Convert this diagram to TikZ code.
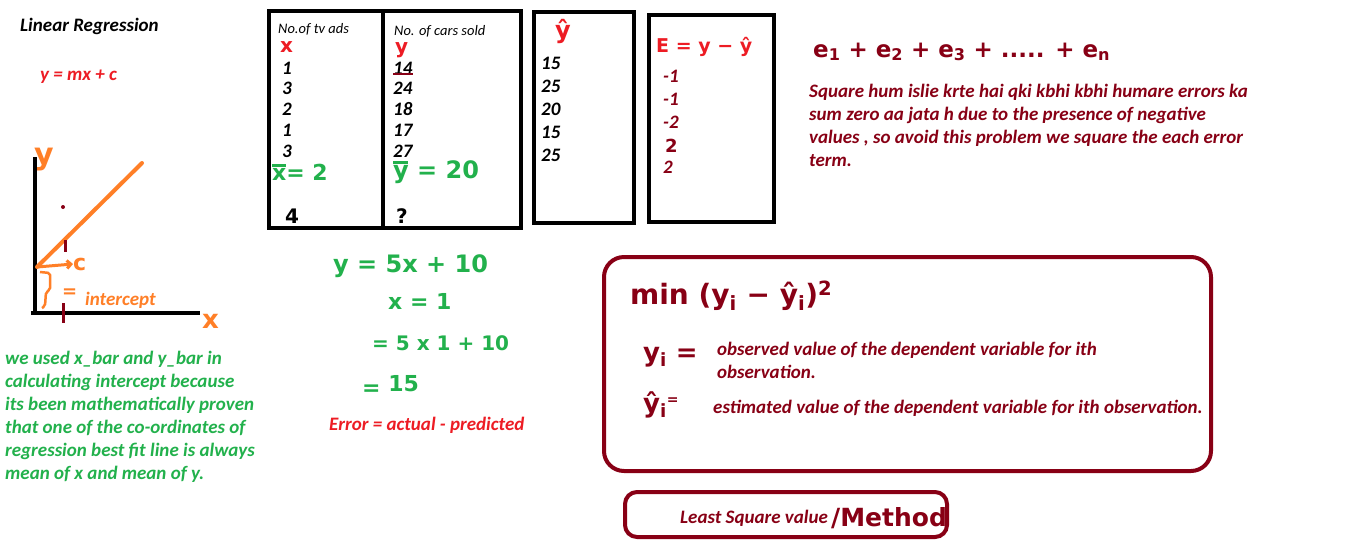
\documentclass[tikz,border=0pt]{standalone}
\usepackage{fontspec}
\setmainfont{Carlito}
\newfontfamily\handfont{DejaVu Sans}
\usepackage{xcolor}
\definecolor{paintred}{RGB}{237,28,36}
\definecolor{paintmaroon}{RGB}{136,0,21}
\definecolor{paintgreen}{RGB}{34,177,76}
\definecolor{paintorange}{RGB}{255,127,39}
\usepackage{tikz}
\usetikzlibrary{
  arrows.meta,
  positioning
}

\begin{document}
\begin{tikzpicture}[x=1pt, y=-1pt,
  txt/.style={font=\fontsize{19}{23}\selectfont\bfseries\itshape,
    inner sep=0pt, anchor=base west},
  smalltxt/.style={font=\fontsize{14.5}{17}\selectfont\itshape,
    inner sep=0pt, anchor=base west},
  hand/.style={font=\handfont\fontsize{#1}{#1}\selectfont\bfseries,
    inner sep=0pt, anchor=west},
  tablebox/.style={line width=4pt, black},
  markbox/.style={line width=4pt, paintmaroon, rounded corners=#1}
]

  %% Canvas
  \fill[white] (0,0) rectangle (1355,558);
  \useasboundingbox (0,0) rectangle (1355,558);

  %% Title and model
  \node[txt, black] (title) at (20,31) {Linear Regression};
  \node[txt, paintred] (model) at (40,80) {y = mx + c};

  %% Axes
  \coordinate (ytop) at (35,157);
  \coordinate (corner) at (35,315);
  \coordinate (xstart) at (31,313);
  \coordinate (xend) at (200,313);
  \draw[line width=4pt] (ytop) -- (corner);
  \draw[line width=4pt] (xstart) -- (xend);
  \node[hand=30, paintorange] (ylab) at (34,160) {y};
  \node[hand=26, paintorange] (xlab) at (202,321) {x};

  %% Fitted line and intercept
  \coordinate (cpt) at (37,267);
  \coordinate (fitend) at (142,163);
  \draw[paintorange, line width=4pt, line cap=round] (cpt) -- (fitend);
  \node[hand=22, paintorange] (clab) at (73,264) {c};
  \draw[paintorange, line width=3pt, -{Straight Barb[length=4pt]}]
    (cpt) -- (clab.west);
  \draw[paintorange, line width=2.5pt, rounded corners=2pt]
    (40,272) -- (50,273) -- (50,290) -- (46,292) -- (45,306) -- (42,308);
  \node[hand=18, paintorange] (eqsign) at (62,293) {=};
  \node[txt, paintorange] (intercept) at (85,305) {intercept};

  %% Marks
  \fill[paintmaroon] (63,207) circle (2);
  \draw[paintmaroon, line width=3pt] (65,240) -- (65,252);
  \draw[paintmaroon, line width=3pt] (63,303) -- (63,323);

  %% Note on the means
  \node[txt, paintgreen] (note1) at (5,364) {we used x\_bar and y\_bar in};
  \node[txt, paintgreen] (note2) at (5,387) {calculating intercept because};
  \node[txt, paintgreen] (note3) at (5,410) {its been mathematically proven};
  \node[txt, paintgreen] (note4) at (5,433) {that one of the co-ordinates of};
  \node[txt, paintgreen] (note5) at (5,456) {regression best fit line is always};
  \node[txt, paintgreen] (note6) at (5,479) {mean of x and mean of y.};

  %% Data table
  \draw[tablebox] (269,11) rectangle (521,228);
  \draw[tablebox] (383,11) -- (383,230);
  \node[smalltxt] (adshead) at (278,33) {No.of tv ads};
  \node[smalltxt] (carshead) at (394,35) {No. of cars sold};
  \node[hand=20, paintred] (xcol) at (280,47) {x};
  \node[hand=20, paintred] (ycol) at (395,50) {y};

  \node[txt] (xa) at (282,74) {1};
  \node[txt] (xb) at (282,94) {3};
  \node[txt] (xc) at (282,115) {2};
  \node[txt] (xd) at (282,136) {1};
  \node[txt] (xe) at (282,157) {3};

  \node[txt] (ya) at (393,74) {14};
  \node[txt] (yb) at (393,94) {24};
  \node[txt] (yc) at (393,115) {18};
  \node[txt] (yd) at (393,136) {17};
  \node[txt] (ye) at (393,157) {27};
  \draw[paintmaroon, line width=2.5pt] (ya.south west) -- (ya.south east);

  \node[hand=22, paintgreen] (xbar) at (272,172) {x= 2};
  \draw[paintgreen, line width=2.5pt]
    ([yshift=-2pt]xbar.north west) -- ++(14,0);
  \node[hand=24, paintgreen] (ybar) at (393,172) {y = 20};
  \draw[paintgreen, line width=2.5pt]
    ([yshift=-2pt]ybar.north west) -- ++(15,0);
  \node[hand=20] (four) at (285,216) {4};
  \node[hand=20] (qmark) at (396,216) {?};

  %% Predicted column
  \draw[tablebox] (534,12) rectangle (634,223);
  \node[hand=24, paintred] (yhat) at (555,31) {ŷ};
  \node[txt] (pa) at (541,69) {15};
  \node[txt] (pb) at (541,92) {25};
  \node[txt] (pc) at (541,115) {20};
  \node[txt] (pd) at (541,138) {15};
  \node[txt] (pe) at (541,161) {25};

  %% Error column
  \draw[tablebox] (649,15) rectangle (774,222);
  \node[hand=19, paintred] (errhead) at (656,47) {E = y − ŷ};
  \node[txt, paintmaroon] (ea) at (663,82) {-1};
  \node[txt, paintmaroon] (eb) at (663,105) {-1};
  \node[txt, paintmaroon] (ec) at (663,128) {-2};
  \node[hand=18, paintmaroon] (ed) at (665,146) {2};
  \node[txt, paintmaroon] (ee) at (663,173) {2};

  %% Sum of errors
  \node[hand=23, paintmaroon] (errsum) at (813,52)
    {e\textsubscript{1} + e\textsubscript{2} + e\textsubscript{3}
     + ..... + e\textsubscript{n}};
  \node[txt, paintmaroon] (why1) at (809,97)
    {Square hum islie krte hai qki kbhi kbhi humare errors ka};
  \node[txt, paintmaroon] (why2) at (809,120)
    {sum zero aa jata h due to the presence of negative};
  \node[txt, paintmaroon] (why3) at (809,143)
    {values , so avoid this problem we square the each error};
  \node[txt, paintmaroon] (why4) at (809,166) {term.};

  %% Worked prediction
  \node[hand=24, paintgreen] (fit) at (333,266) {y = 5x + 10};
  \node[hand=22, paintgreen] (xone) at (388,301) {x = 1};
  \node[hand=20, paintgreen] (subst) at (372,343) {= 5 x 1 + 10};
  \node[hand=22, paintgreen] (result) at (362,385)
    {= \raisebox{4pt}{15}};
  \node[txt, paintred] (errdef) at (329,430) {Error = actual - predicted};

  %% Objective
  \draw[markbox=20pt] (604,257) rectangle (1211,471);
  \node[hand=28, paintmaroon] (objective) at (630,296)
    {min (y\textsubscript{i} − ŷ\textsubscript{i})\textsuperscript{2}};
  \node[hand=26, paintmaroon] (yi) at (643,357) {y\textsubscript{i} =};
  \node[txt, paintmaroon] (obs1) at (717,355)
    {observed value of the dependent variable for ith};
  \node[txt, paintmaroon] (obs2) at (717,378) {observation.};
  \node[hand=26, paintmaroon] (yhati) at (643,405)
    {ŷ\textsubscript{i}\raisebox{8pt}{\fontsize{14}{14}\selectfont =}};
  \node[txt, paintmaroon] (est) at (713,413)
    {estimated value of the dependent variable for ith observation.};

  %% Method name
  \draw[markbox=12pt] (625,492) rectangle (947,537);
  \node[txt, paintmaroon] (lsq) at (680,523) {Least Square value};
  \node[hand=25, paintmaroon] (method) at (831,518) {/Method};

\end{tikzpicture}
\end{document}
